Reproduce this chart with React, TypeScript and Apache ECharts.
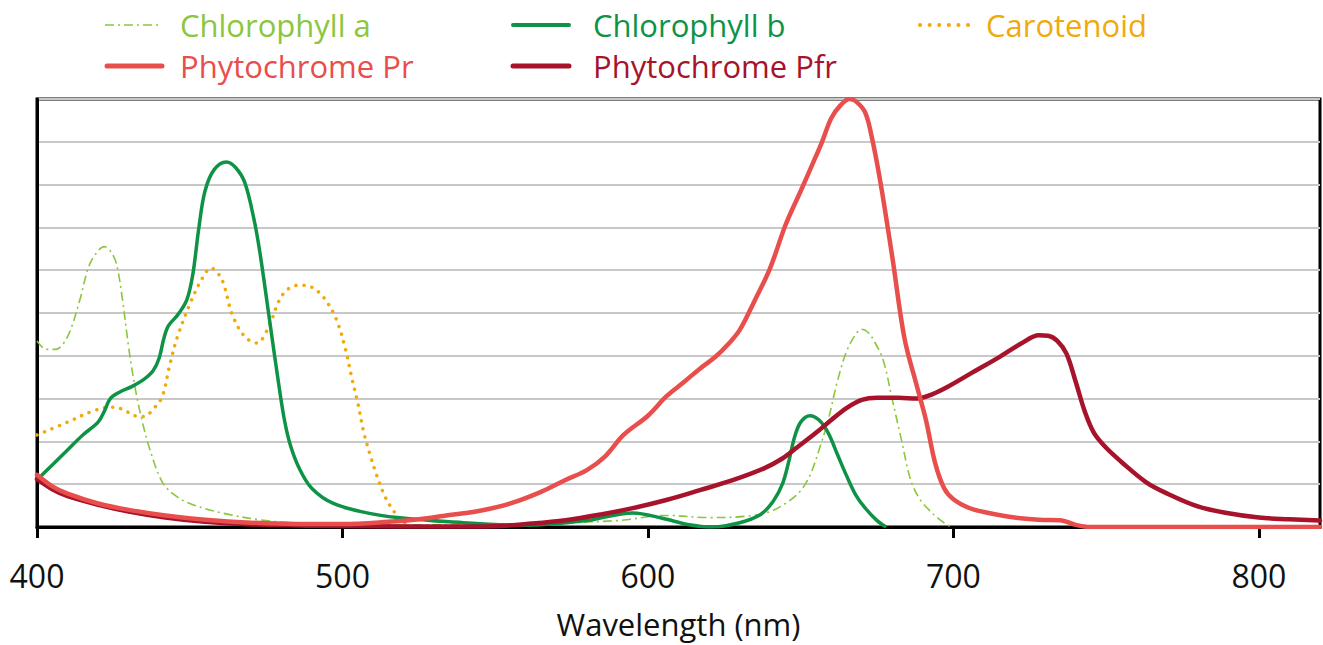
import React, { useEffect, useRef } from "react";
import * as echarts from "echarts";

const xTicks = [400, 500, 600, 700, 800];

const chlorophyllA: number[][] = [
  [400, 4.35], [403, 4.15], [406, 4.15], [410, 4.45], [414, 5.3], [417, 6.1], [420, 6.45], [422, 6.55],
  [424, 6.45], [426, 6.15], [428, 5.3], [430, 4.2], [432, 3.3], [434, 2.6], [437, 1.8], [441, 1.05],
  [445, 0.75], [450, 0.55], [461, 0.32], [475, 0.15], [490, 0.08], [520, 0.05], [560, 0.08], [590, 0.15],
  [606, 0.27], [620, 0.22], [632, 0.25], [640, 0.36], [646, 0.6], [650, 0.85], [653, 1.2], [656, 1.8],
  [659, 2.5], [662, 3.4], [665, 4.1], [668, 4.5], [670, 4.62], [672, 4.55], [674, 4.35], [677, 3.9],
  [680, 2.97], [683, 2.03], [686, 1.1], [689, 0.65], [692, 0.4], [695, 0.2], [698, 0.05], [700, 0],
];

const chlorophyllB: number[][] = [
  [400, 1.1], [405, 1.45], [410, 1.8], [415, 2.15], [420, 2.45], [422, 2.7], [424, 3.0], [427, 3.15],
  [431, 3.28], [435, 3.45], [438, 3.65], [440, 3.95], [441.5, 4.4], [443, 4.7], [446, 4.95], [449, 5.3],
  [451, 5.9], [453, 7.0], [455, 7.85], [458, 8.35], [462, 8.53], [465, 8.4], [468, 8.05], [471, 7.2],
  [473, 6.4], [476, 4.9], [479, 3.4], [481, 2.5], [483, 1.9], [486, 1.35], [490, 0.9], [497, 0.55],
  [508, 0.33], [518, 0.22], [535, 0.12], [560, 0.04], [580, 0.15], [595, 0.33], [605, 0.2], [613, 0.06],
  [621, 0.0], [630, 0.1], [637, 0.3], [641, 0.6], [644, 1.0], [646, 1.5], [648, 2.1], [650, 2.45],
  [653, 2.6], [656, 2.5], [659, 2.2], [662, 1.7], [665, 1.2], [668, 0.75], [671, 0.45], [675, 0.15], [678, 0],
];

const carotenoid: number[][] = [
  [400, 2.15], [410, 2.45], [418, 2.7], [424, 2.8], [428, 2.75], [432, 2.6], [435, 2.58], [438, 2.75],
  [441, 3.05], [443.5, 3.8], [446, 4.45], [450, 5.2], [454, 5.8], [457, 6.05], [459, 5.95], [461, 5.7],
  [464, 4.95], [468, 4.45], [472, 4.3], [476, 4.7], [479, 5.25], [482, 5.55], [486, 5.65], [490, 5.6],
  [494, 5.35], [498, 4.85], [501, 4.15], [503, 3.5], [505, 2.9], [507, 2.2], [509, 1.7], [511, 1.25],
  [514, 0.7], [517, 0.35], [520, 0.1], [522, 0],
];

const phytochromePr: number[][] = [
  [400, 1.22], [405, 0.95], [410, 0.78], [420, 0.55], [430, 0.4], [442, 0.27], [455, 0.17], [470, 0.1],
  [485, 0.07], [500, 0.07], [515, 0.12], [525, 0.18], [535, 0.28], [545, 0.38], [555, 0.55], [565, 0.82],
  [573, 1.1], [580, 1.33], [586, 1.65], [592, 2.15], [600, 2.6], [606, 3.05], [612, 3.4], [617, 3.7],
  [622, 3.97], [626, 4.25], [630, 4.6], [635, 5.3], [640, 6.05], [645, 7.05], [650, 7.85], [654, 8.5],
  [657, 9.0], [660, 9.55], [663, 9.85], [666, 10.0], [668, 9.95], [671, 9.7], [673, 9.2], [676, 8.1],
  [680, 6.3], [684, 4.4], [688, 3.3], [691, 2.5], [694, 1.5], [697, 0.9], [700, 0.65], [705, 0.45],
  [710, 0.35], [720, 0.22], [728, 0.17], [735, 0.16], [740, 0.05], [745, 0], [820, 0],
];

const phytochromePfr: number[][] = [
  [400, 1.12], [405, 0.88], [410, 0.72], [420, 0.52], [430, 0.36], [442, 0.22], [455, 0.12], [470, 0.06],
  [490, 0.03], [510, 0.02], [530, 0.01], [550, 0.02], [562, 0.08], [573, 0.16], [585, 0.3], [595, 0.44],
  [606, 0.63], [617, 0.86], [628, 1.1], [638, 1.37], [644, 1.6], [649, 1.87], [655, 2.2], [660, 2.5],
  [665, 2.78], [670, 2.97], [675, 3.02], [682, 3.02], [688, 3.0], [693, 3.1], [698, 3.27], [706, 3.6],
  [715, 3.97], [722, 4.28], [728, 4.48], [731, 4.47], [734, 4.35], [737, 4.05], [740, 3.4], [743, 2.7],
  [746, 2.2], [750, 1.85], [755, 1.52], [763, 1.05], [770, 0.78], [780, 0.48], [790, 0.32], [800, 0.22],
  [810, 0.18], [820, 0.15],
];

const FONT = "'Open Sans', 'Noto Sans', sans-serif";

const C_A = "#8cc63e";
const C_B = "#0e9346";
const C_CAR = "#f0aa0c";
const C_PR = "#e84e4b";
const C_PFR = "#a6132b";

export default function App() {
  const ref = useRef<HTMLDivElement>(null);
  useEffect(() => {
    if (!ref.current) return;
    const chart = echarts.init(ref.current, undefined, { renderer: "svg" });

    const legendItem = (
      name: string, color: string, x1: number, x2: number, tx: number, y: number,
      width: number, dash: any, cap: string,
    ) => [
      {
        type: "line",
        shape: { x1, y1: y, x2, y2: y },
        style: { stroke: color, lineWidth: width, lineDash: dash, lineCap: cap },
        silent: true,
      },
      {
        type: "text",
        x: tx,
        y,
        style: {
          text: name,
          fill: color,
          fontFamily: FONT,
          fontSize: 31,
          lineHeight: 34,
          verticalAlign: "middle",
          align: "left",
        },
        silent: true,
      },
    ];

    const mk = (name: string, data: number[][], color: string, width: number, type: any, z: number, cap = "butt") => ({
      name,
      type: "line",
      data,
      smooth: 0.35,
      showSymbol: false,
      symbol: "none",
      z,
      lineStyle: { color, width, type, cap, join: "round" },
      itemStyle: { color },
    });

    chart.setOption({
      animation: false,
      graphic: [
        ...legendItem("Chlorophyll a", C_A, 105, 162, 180, 25, 1.6, [9, 4, 2, 4], "butt"),
        ...legendItem("Chlorophyll b", C_B, 513, 569, 593, 25, 4, null, "round"),
        ...legendItem("Carotenoid", C_CAR, 920, 975, 986, 25, 4, [0.1, 9.5], "round"),
        ...legendItem("Phytochrome Pr", C_PR, 107, 162, 180, 66, 5, null, "round"),
        ...legendItem("Phytochrome Pfr", C_PFR, 513, 569, 593, 66, 5, null, "round"),
      ],
      grid: {
        left: 37,
        right: 3,
        top: 99,
        bottom: 118,
        show: true,
        borderColor: "#000",
        borderWidth: 3,
        backgroundColor: "#fff",
        outerBoundsMode: "none",
        containLabel: false,
      },
      xAxis: {
        type: "value",
        min: 400,
        max: 820,
        interval: 100,
        name: "Wavelength (nm)",
        nameLocation: "middle",
        nameGap: 80,
        nameTextStyle: { fontFamily: FONT, fontSize: 31, lineHeight: 34, color: "#111" },
        axisLine: { show: true, lineStyle: { color: "#000", width: 3 } },
        axisTick: { show: true, length: 11, lineStyle: { color: "#000", width: 3 } },
        axisLabel: {
          fontFamily: FONT,
          fontSize: 32,
          color: "#111",
          margin: 32,
          showMaxLabel: false,
          formatter: (v: number) => (xTicks.includes(v) ? String(v) : ""),
        },
        splitLine: { show: false },
      },
      yAxis: {
        type: "value",
        min: 0,
        max: 10,
        interval: 1,
        axisLine: { show: true, lineStyle: { color: "#000", width: 3 } },
        axisTick: { show: false },
        axisLabel: { show: false },
        splitLine: { show: true, lineStyle: { color: "#c8c8c8", width: 2 } },
      },
      series: [
        mk("Chlorophyll a", chlorophyllA, C_A, 1.6, [9, 4, 2, 4], 3),
        mk("Carotenoid", carotenoid, C_CAR, 3.5, [0.1, 8], 4, "round"),
        mk("Chlorophyll b", chlorophyllB, C_B, 3.5, "solid", 5),
        mk("Phytochrome Pfr", phytochromePfr, C_PFR, 4.5, "solid", 6, "round"),
        mk("Phytochrome Pr", phytochromePr, C_PR, 4.5, "solid", 7, "round"),
      ],
    });
    return () => chart.dispose();
  }, []);
  return <div ref={ref} style={{ width: 1323, height: 645, position: "absolute", left: 0, top: 0 }} />;
}
